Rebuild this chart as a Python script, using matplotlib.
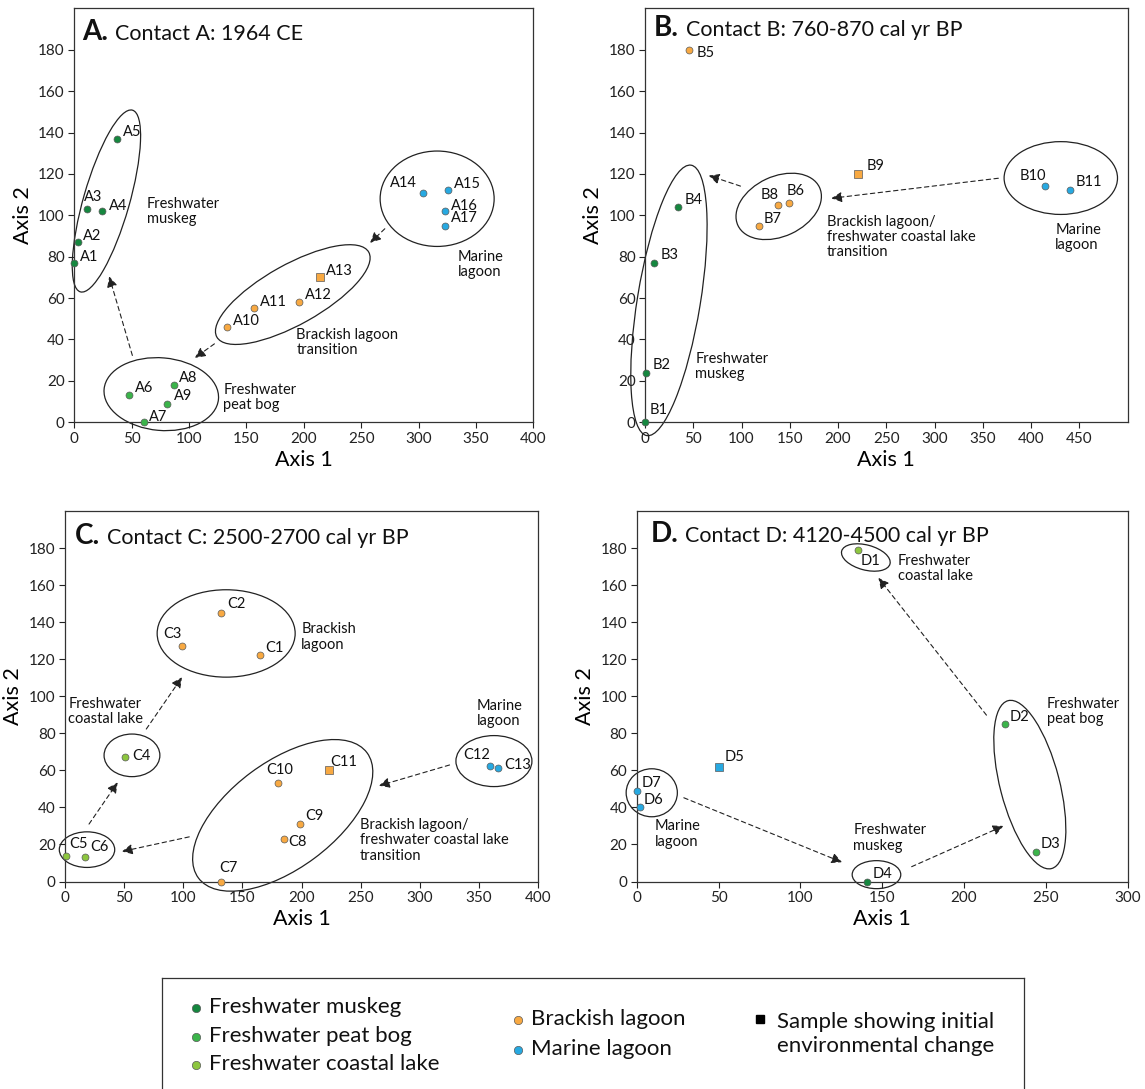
import matplotlib
matplotlib.use('Agg')
import matplotlib.pyplot as plt
from matplotlib.patches import Ellipse, FancyArrowPatch
import matplotlib.transforms as mtransforms

plt.rcParams['font.family'] = ['Lato', 'DejaVu Sans']

# ---------------- data ----------------
A_labels = ['A%d' % i for i in range(1, 18)]
A_x = [0, 3, 11, 24, 37, 48, 61, 87, 81, 133, 157, 196, 214, 304, 326, 323, 323]
A_y = [77, 87, 103, 102, 137, 13, 0, 18, 9, 46, 55, 58, 70, 111, 112, 102, 95]
A_env = ['muskeg'] * 5 + ['peat'] * 4 + ['brackish'] * 4 + ['marine'] * 4
A_initial = ['A13']

B_labels = ['B%d' % i for i in range(1, 12)]
B_x = [0, 1.5, 9, 34, 46, 149, 118, 138, 221, 414, 440]
B_y = [0, 24, 77, 104, 180, 106, 95, 105, 120, 114, 112]
B_env = ['muskeg'] * 4 + ['brackish'] * 5 + ['marine'] * 2
B_initial = ['B9']

C_labels = ['C%d' % i for i in range(1, 14)]
C_x = [165, 132, 99, 51, 0.5, 17, 132, 185, 199, 180, 223, 359, 366]
C_y = [122, 145, 127, 67, 14, 13, 0, 23, 31, 53, 60, 62.5, 61]
C_env = ['brackish'] * 3 + ['lake'] * 3 + ['brackish'] * 5 + ['marine'] * 2
C_initial = ['C11']

D_labels = ['D%d' % i for i in range(1, 8)]
D_x = [135, 225, 244, 141, 50, 2, 0]
D_y = [179, 85, 16, 0, 62, 40, 49]
D_env = ['lake', 'peat', 'peat', 'muskeg', 'marine', 'marine', 'marine']
D_initial = ['D5']

titles = {'A': 'Contact A: 1964 CE', 'B': 'Contact B: 760-870 cal yr BP',
          'C': 'Contact C: 2500-2700 cal yr BP', 'D': 'Contact D: 4120-4500 cal yr BP'}
xmax = {'A': 400, 'B': 500, 'C': 400, 'D': 300}
xtick_max = {'A': 400, 'B': 450, 'C': 400, 'D': 300}
ytick_vals = list(range(0, 181, 20))

legend_labels = [['Freshwater muskeg', 'Freshwater peat bog', 'Freshwater coastal lake'],
                 ['Brackish lagoon', 'Marine lagoon']]
legend_envs = [['muskeg', 'peat', 'lake'], ['brackish', 'marine']]
legend_square_text = 'Sample showing initial\nenvironmental change'

# group annotations: text, x, y (data)
A_groups = [("Freshwater\nmuskeg", 63, 101.8), ("Brackish lagoon\ntransition", 193.5, 38.5),
            ("Freshwater\npeat bog", 129.8, 12.1), ("Marine\nlagoon", 334, 76.1)]
B_groups = [("Freshwater\nmuskeg", 52.3, 26.9),
            ("Brackish lagoon/\nfreshwater coastal lake\ntransition", 188.6, 89.6),
            ("Marine\nlagoon", 425, 89.4)]
C_groups = [("Brackish\nlagoon", 199.7, 132), ("Freshwater\ncoastal lake", 2.7, 91.8),
            ("Marine\nlagoon", 348, 90.6),
            ("Brackish lagoon/\nfreshwater coastal lake\ntransition", 249.3, 22.2)]
D_groups = [("Freshwater\ncoastal lake", 159.6, 169), ("Freshwater\npeat bog", 250.5, 91.8),
            ("Marine\nlagoon", 11, 25.7), ("Freshwater\nmuskeg", 132.3, 23.4)]

# ---------------- styles / layout ----------------
COLORS = {'muskeg': '#15873f', 'peat': '#3bb44a', 'lake': '#8dc63f',
          'brackish': '#f8a942', 'marine': '#27a9e1'}
W, H = 1145, 1089
DPI = 100
fig = plt.figure(figsize=(W / DPI, H / DPI), dpi=DPI)

# axes rectangles in pixels: left, top, right, bottom (from figure top)
rects = {'A': (74.3, 8.3, 533.3, 422.3), 'B': (645, 8.3, 1127.7, 422.3),
         'C': (65, 511, 538.3, 881.5), 'D': (636.7, 511, 1127.7, 881.5)}

# ellipses: centre in data, semi-axes in px, angle deg
ellipses = {
    'A': [(28, 106.9, 94.5, 23, 74), (75.8, 13.6, 57.4, 36.3, -5),
          (190.4, 61.7, 87, 30, 29.2), (316.2, 108, 57, 47.7, 0)],
    'B': [(24.8, 58.9, 137, 31.5, 80.7), (138.5, 104.3, 45, 30, 25),
          (430.7, 118, 56.7, 36.4, 0)],
    'C': [(136.2, 133.9, 69, 43.7, 0), (56.6, 68.1, 27.9, 21.3, 0),
          (18.6, 17.2, 27.7, 17.8, 0), (362.5, 65, 38, 25.5, 0),
          (184, 35.7, 105, 53.3, 36.6)],
    'D': [(140, 174.9, 25, 12.5, -15), (240.2, 52.3, 86.7, 29.7, 104.5),
          (9.2, 47.9, 25.6, 24, 0), (146.5, 3.7, 24.3, 14, 0)],
}
arrows = {
    'A': [(270.6, 93.5, 257.8, 86.7), (122.1, 37.9, 105, 31.1), (50.6, 32.3, 30.4, 70.5)],
    'B': [(366, 117.9, 193, 108.2), (98.9, 114.1, 66.1, 119.2)],
    'C': [(20.3, 31, 44.5, 53.5), (68.7, 82.3, 98.9, 110.3),
          (325, 62.9, 265.4, 51.7), (105, 24.1, 48.1, 16.2)],
    'D': [(28.8, 45.2, 125.5, 10.4), (168, 8, 224.1, 30), (213.7, 89.8, 147.7, 163.9)],
}
# label offsets in px (dx, dy, ha)
offsets = {
    'A': [(6, 6, 'left'), (5.3, 6.7, 'left'), (-3.2, 11.7, 'left'), (7.1, 5, 'left'),
          (5.7, 6.3, 'left'), (5.7, 7.3, 'left'), (5, 5.7, 'left'), (5.3, 6.7, 'left'),
          (6.4, 7.3, 'left'), (6.4, 6.3, 'left'), (5.7, 6.3, 'left'), (6, 7, 'left'),
          (5.7, 6.7, 'left'), (-6.8, 9.3, 'right'), (5.7, 6, 'left'), (6, 5.3, 'left'),
          (6.4, 7.3, 'left')],
    'B': [(5, 12, 'left'), (5.8, 7.3, 'left'), (7.2, 8.3, 'left'), (7.2, 7.3, 'left'),
          (7.2, -3.3, 'left'), (-2.5, 12, 'left'), (4.7, 7, 'left'), (-18, 10, 'left'),
          (8.6, 8, 'left'), (1, 10.7, 'right'), (6.1, 8, 'left')],
    'C': [(5.4, 7, 'left'), (6.1, 8.7, 'left'), (-0.7, 12, 'right'), (7.2, 1, 'left'),
          (3.6, 12, 'left'), (5, 10, 'left'), (-1.8, 13.3, 'left'), (4.7, -3.3, 'left'),
          (4.3, 8, 'left'), (1.8, 13, 'center'), (1.4, 8.3, 'left'), (0.4, 11, 'right'),
          (6.1, 3.7, 'left')],
    'D': [(2.5, -10.6, 'left'), (4.3, 7.3, 'left'), (5, 7.6, 'left'), (5.4, 7, 'left'),
          (5.8, 9.3, 'left'), (4, 7.6, 'left'), (4.7, 8, 'left')],
}
title_pos = {'A': (7.4, 32), 'B': (9, 28), 'C': (10, 33), 'D': (13.7, 31)}

panels = {
    'A': (A_labels, A_x, A_y, A_env, A_initial, A_groups),
    'B': (B_labels, B_x, B_y, B_env, B_initial, B_groups),
    'C': (C_labels, C_x, C_y, C_env, C_initial, C_groups),
    'D': (D_labels, D_x, D_y, D_env, D_initial, D_groups),
}

axes = {}
for key, (labels, xs, ys, envs, initial, groups) in panels.items():
    l, t, r, b = rects[key]
    ax = fig.add_axes([l / W, 1 - b / H, (r - l) / W, (b - t) / H])
    axes[key] = ax
    ax.set_xlim(0, xmax[key])
    ax.set_ylim(0, 200)
    ax.set_xticks(list(range(0, xtick_max[key] + 1, 50)))
    ax.set_yticks(ytick_vals)
    ax.tick_params(direction='out', length=4.3, width=0.8, pad=2.5, labelsize=11,
                   colors='#222222')
    for sp in ax.spines.values():
        sp.set_linewidth(0.9)
        sp.set_color('#333333')
    ax.set_xlabel('Axis 1', fontsize=15.5, labelpad=3)
    ax.set_ylabel('Axis 2', fontsize=15.5, labelpad=4)

    # ellipses
    for (cx, cy, a, bb, ang) in ellipses[key]:
        tr = mtransforms.Affine2D().scale(fig.dpi / 100) + \
            mtransforms.ScaledTranslation(cx, cy, ax.transData)
        e = Ellipse((0, 0), 2 * a, 2 * bb, angle=ang, transform=tr, fill=False,
                    ec='#222222', lw=0.9, clip_on=False, zorder=2)
        ax.add_artist(e)
    # arrows
    for (x0, y0, x1, y1) in arrows[key]:
        ar = FancyArrowPatch((x0, y0), (x1, y1),
                             arrowstyle='-|>,head_length=0.45,head_width=0.22',
                             mutation_scale=14, linestyle=(0, (4, 3)), lw=0.8,
                             color='#222222', clip_on=False, zorder=2,
                             shrinkA=0, shrinkB=0)
        ax.add_patch(ar)
    # points
    for lbl, x, y, env, (dx, dy, ha) in zip(labels, xs, ys, envs, offsets[key]):
        mk = 's' if lbl in initial else 'o'
        ax.plot([x], [y], marker=mk, ms=5 if mk == 'o' else 5.2, mfc=COLORS[env],
                mec='#5a5a5a', mew=0.5, ls='none', clip_on=False, zorder=4)
        ax.annotate(lbl, (x, y), xytext=(dx, dy), textcoords='offset pixels',
                    ha=ha, va='center', fontsize=10.5, color='#111111', zorder=5,
                    annotation_clip=False)
    for (txt, x, y) in groups:
        ax.text(x, y, txt, ha='left', va='center', fontsize=10.5, linespacing=1.12,
                color='#111111')

# titles
fig.canvas.draw()
renderer = fig.canvas.get_renderer()
for key, ax in axes.items():
    l, t, r, b = rects[key]
    dx, dy = title_pos[key]
    x0 = l + dx
    yb = H - (t + dy)
    t1 = fig.text(x0 / W, yb / H, key + '.', fontsize=20, fontweight='bold',
                  ha='left', va='baseline', color='#111111')
    ext = t1.get_window_extent(renderer)
    fig.text((ext.x1 + 7) / W, yb / H, titles[key], fontsize=15.5, ha='left',
             va='baseline', color='#111111')

# legend box
lax = fig.add_axes([162 / W, 0, (1024 - 162) / W, (1089 - 978) / H])
lax.set_xlim(162, 1024)
lax.set_ylim(1089, 978)
lax.set_xticks([])
lax.set_yticks([])
for name, sp in lax.spines.items():
    sp.set_linewidth(0.9)
    sp.set_color('#333333')
lax.spines['bottom'].set_visible(False)
col_x = [196, 518]
col_y = [[1007, 1036, 1064], [1019, 1049]]
for ci in range(2):
    for lab, env, yy in zip(legend_labels[ci], legend_envs[ci], col_y[ci]):
        lax.plot([col_x[ci]], [yy + 1], marker='o', ms=6, mfc=COLORS[env], mec='#5a5a5a',
                 mew=0.5, ls='none')
        lax.text(col_x[ci] + 13, yy, lab, fontsize=16, va='center', ha='left',
                 color='#111111')
lax.plot([760], [1019], marker='s', ms=6, mfc='black', mec='black', ls='none')
lax.text(777, 1034, legend_square_text, fontsize=16, va='center', ha='left',
         linespacing=1.2, color='#111111')

fig.savefig('out.png', dpi=DPI)
